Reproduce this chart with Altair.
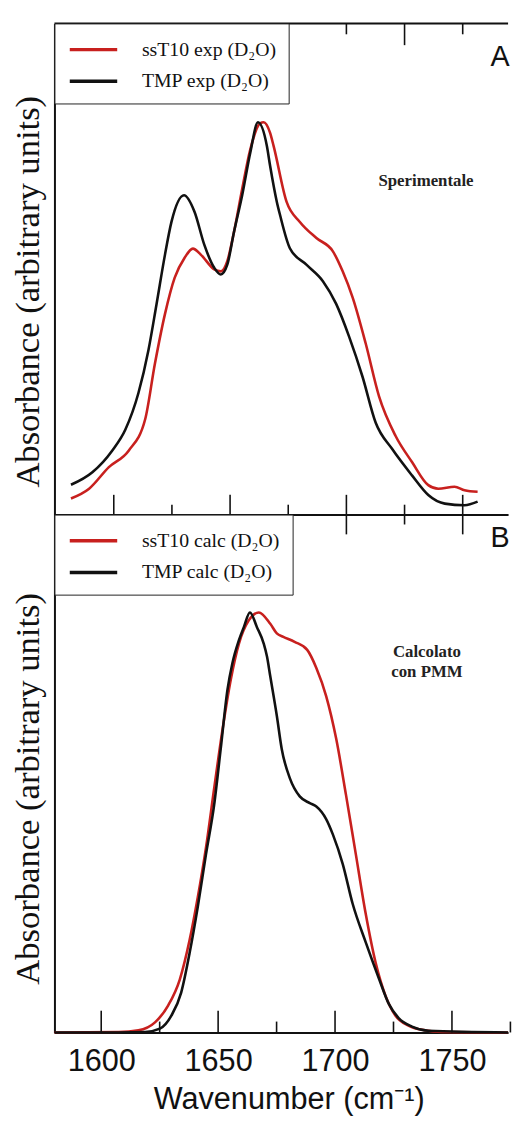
import altair as alt
import pandas as pd

RED = "#c8201e"
BLACK = "#111111"

# ---------------- Panel A : experimental spectra ----------------
a_tmp_wn = [1581.6, 1590.8, 1599.3, 1605.0, 1610.6, 1614.9, 1618.4, 1622.0, 1624.8, 1630.2,
            1634.7, 1638.9, 1643.2, 1646.0, 1648.8, 1651.7, 1655.2, 1658.7, 1662.0, 1665.8,
            1667.2, 1670.1, 1671.5, 1675.7, 1682.8, 1689.9, 1695.6, 1701.2, 1706.9, 1712.6,
            1719.7, 1728.2, 1735.2, 1742.3, 1750.8, 1756.4]
a_tmp_abs = [0.076, 0.108, 0.163, 0.217, 0.310, 0.419, 0.537, 0.662, 0.746, 0.814,
             0.772, 0.688, 0.629, 0.612, 0.637, 0.721, 0.814, 0.923, 1.000, 0.940,
             0.889, 0.797, 0.763, 0.679, 0.637, 0.595, 0.537, 0.453, 0.352, 0.234,
             0.167, 0.100, 0.050, 0.028, 0.024, 0.033]
a_ss_wn = [1581.6, 1589.4, 1597.9, 1606.4, 1613.5, 1617.7, 1622.0, 1626.2, 1630.4, 1634.0,
           1637.5, 1643.2, 1646.0, 1648.8, 1651.7, 1655.2, 1658.7, 1663.0, 1664.4, 1667.2,
           1668.7, 1674.3, 1680.0, 1687.1, 1694.2, 1698.4, 1702.7, 1708.3, 1714.0, 1721.1,
           1728.2, 1735.2, 1739.5, 1746.5, 1750.8, 1756.4]
a_ss_abs = [0.041, 0.066, 0.121, 0.163, 0.243, 0.385, 0.511, 0.604, 0.654, 0.678,
            0.662, 0.625, 0.620, 0.646, 0.721, 0.830, 0.931, 0.998, 1.000, 0.973,
            0.940, 0.797, 0.746, 0.705, 0.671, 0.620, 0.553, 0.436, 0.302, 0.201,
            0.134, 0.075, 0.066, 0.071, 0.062, 0.058]
a_labels = ["ssT10 exp (D\u2082O)", "TMP exp (D\u2082O)"]

# ---------------- Panel B : calculated spectra ----------------
b_tmp_wn = [1580.0, 1607.5, 1618.8, 1625.1, 1630.0, 1634.2, 1637.8, 1641.3, 1644.8, 1648.3,
            1651.1, 1654.0, 1656.1, 1658.9, 1661.0, 1663.6, 1666.6, 1669.5, 1670.9, 1672.3,
            1675.1, 1677.2, 1680.7, 1684.9, 1689.2, 1692.0, 1696.2, 1699.1, 1703.3, 1707.5,
            1713.1, 1718.8, 1723.0, 1727.2, 1732.9, 1739.9, 1774.0]
b_tmp_abs = [0.0, 0.0, 0.001, 0.009, 0.040, 0.095, 0.189, 0.299, 0.424, 0.542,
             0.675, 0.816, 0.879, 0.934, 0.965, 1.000, 0.965, 0.926, 0.895, 0.848,
             0.754, 0.675, 0.605, 0.562, 0.546, 0.538, 0.508, 0.471, 0.401, 0.307,
             0.215, 0.128, 0.068, 0.034, 0.014, 0.004, 0.0]
b_ss_wn = [1580.0, 1607.5, 1615.9, 1623.0, 1628.6, 1633.6, 1637.8, 1641.3, 1644.8, 1648.3,
           1651.9, 1655.4, 1658.9, 1663.1, 1667.4, 1672.3, 1675.1, 1677.9, 1682.7, 1688.1,
           1692.0, 1696.2, 1700.5, 1704.7, 1708.9, 1713.1, 1717.4, 1721.6, 1725.8, 1731.4,
           1738.5, 1745.6, 1774.0]
b_ss_abs = [0.0, 0.001, 0.005, 0.024, 0.064, 0.126, 0.220, 0.322, 0.440, 0.581,
            0.722, 0.840, 0.926, 0.981, 1.000, 0.973, 0.950, 0.942, 0.930, 0.911,
            0.868, 0.801, 0.699, 0.565, 0.424, 0.283, 0.165, 0.087, 0.040, 0.016,
            0.005, 0.001, 0.0]
b_labels = ["ssT10 calc (D\u2082O)", "TMP calc (D\u2082O)"]

# tick marks on the frames
major_ticks = [1600, 1650, 1700, 1750]
minor_ticks = [1625, 1675, 1725, 1775]
a_top_major = [1625, 1675, 1725]
a_top_minor = [1600, 1650, 1700, 1750]
b_tick_labels = [1600, 1650, 1700, 1750]

# annotations
a_note = {"wn": [1734.2], "abs": [0.849], "txt": ["Sperimentale"]}
b_note = {"wn": [1739.3], "abs": [0.906]}
a_letter = {"wn": [1766.1], "abs": [1.165], "txt": ["A"]}
b_letter = {"wn": [1770.6], "abs": [1.178], "txt": ["B"]}

W = 459
HA = 497
HB = 524

xA = alt.Scale(domain=[1574.5, 1769.5], nice=False, zero=False)
yA = alt.Scale(domain=[0, 1.252], nice=False)
xB = alt.Scale(domain=[1580, 1774], nice=False, zero=False)
yB = alt.Scale(domain=[0, 1.233], nice=False)


def y_axis(ty):
    return alt.Axis(labels=False, ticks=False, grid=False, domainColor=BLACK, domainWidth=2,
                    title="Absorbance (arbitrary units)", titleFont="Liberation Serif",
                    titleFontSize=35, titleFontWeight="normal", titleColor=BLACK,
                    titleAngle=270, titleAlign="center", titleBaseline="middle",
                    titleX=-27, titleY=ty)


axA_x = alt.Axis(labels=False, ticks=False, grid=False, domainColor=BLACK, domainWidth=2, title=None)
axA_y = y_axis(271)
axB_x = alt.Axis(values=b_tick_labels, ticks=False, tickSize=0, grid=False, format="d",
                 labelFont="Liberation Sans", labelFontSize=31, labelColor=BLACK,
                 labelBaseline="alphabetic", labelPadding=39, labelFlush=False,
                 domainColor=BLACK, domainWidth=2,
                 title="Wavenumber (cm\u207b\u00b9)", titleFont="Liberation Sans",
                 titleFontSize=31, titleFontWeight="normal", titleColor=BLACK,
                 titleX=237, titleY=77, titleAlign="center", titleBaseline="alphabetic")
axB_y = y_axis(277)


def legend():
    return alt.Legend(title=None, orient="top-left", offset=0, padding=12.5,
                      strokeColor="#222222", fillColor="white",
                      symbolType="M-2,0H2", symbolSize=576, symbolStrokeWidth=3.5,
                      symbolOffset=13, labelOffset=35, rowPadding=8,
                      labelFont="Liberation Serif", labelFontSize=20, labelColor=BLACK,
                      labelLimit=400)


def panel(tmp_wn, tmp_abs, ss_wn, ss_abs, labels, xs, ys, ax_x, ax_y, H,
          bottom_ticks, top_ticks, note_layer, letter):
    df = pd.DataFrame({
        "wn": ss_wn + tmp_wn,
        "abs": ss_abs + tmp_abs,
        "series": [labels[0]] * len(ss_wn) + [labels[1]] * len(tmp_wn),
    })
    X = alt.X("wn:Q", scale=xs, axis=ax_x)
    Y = alt.Y("abs:Q", scale=ys, axis=ax_y)
    lines = alt.Chart(df).mark_line(strokeWidth=2.6, interpolate="monotone").encode(
        x=X, y=Y,
        color=alt.Color("series:N", scale=alt.Scale(domain=labels, range=[RED, BLACK]),
                        legend=legend()),
    )
    layers = [lines]
    for vals, y0, y1 in bottom_ticks + top_ticks:
        layers.append(
            alt.Chart(pd.DataFrame({"wn": vals})).mark_rule(color=BLACK, strokeWidth=1.6).encode(
                x=X, y=alt.value(y0), y2=alt.value(y1)))
    layers.append(note_layer)
    layers.append(
        alt.Chart(pd.DataFrame(letter)).mark_text(font="Liberation Sans", fontSize=29, color=BLACK,
                                                  align="center", baseline="middle").encode(
            x=X, y=Y, text="txt:N"))
    return alt.layer(*layers).properties(width=W, height=H)


# Panel A
noteA = alt.Chart(pd.DataFrame(a_note)).mark_text(
    font="Liberation Serif", fontSize=17, fontWeight="bold", color="#222222",
    align="center", baseline="middle").encode(
    x=alt.X("wn:Q", scale=xA, axis=axA_x), y=alt.Y("abs:Q", scale=yA, axis=axA_y), text="txt:N")
topA = alt.Chart(pd.DataFrame({"k": [0]})).mark_rule(color=BLACK, strokeWidth=2).encode(
    x=alt.value(0), x2=alt.value(W), y=alt.value(0))
chartA = panel(a_tmp_wn, a_tmp_abs, a_ss_wn, a_ss_abs, a_labels, xA, yA, axA_x, axA_y, HA,
               [(major_ticks, HA - 20, HA + 20), (minor_ticks[:3], HA - 10, HA + 10)],
               [(a_top_major, 0, 22), (a_top_minor, 0, 11)],
               noteA, a_letter)
chartA = alt.layer(chartA, topA)

# Panel B
noteB = alt.Chart(pd.DataFrame(b_note)).mark_text(
    font="Liberation Serif", fontSize=17, fontWeight="bold", color="#222222",
    align="center", baseline="middle", lineHeight=20).encode(
    x=alt.X("wn:Q", scale=xB, axis=axB_x), y=alt.Y("abs:Q", scale=yB, axis=axB_y),
    text=alt.value(["Calcolato", "con PMM"]))
chartB = panel(b_tmp_wn, b_tmp_abs, b_ss_wn, b_ss_abs, b_labels, xB, yB, axB_x, axB_y, HB,
               [(major_ticks, HB - 22, HB), (minor_ticks, HB - 11, HB)],
               [],
               noteB, b_letter)

chart = alt.vconcat(chartA, chartB, spacing=0, bounds="flush").resolve_scale(
    color="independent", x="independent", y="independent"
).resolve_legend(color="independent").configure_view(stroke=None).properties(
    padding={"left": 2, "top": 8, "right": 0, "bottom": 0}
)

chart.save("out.html", embed_options={"renderer": "svg", "actions": False})
